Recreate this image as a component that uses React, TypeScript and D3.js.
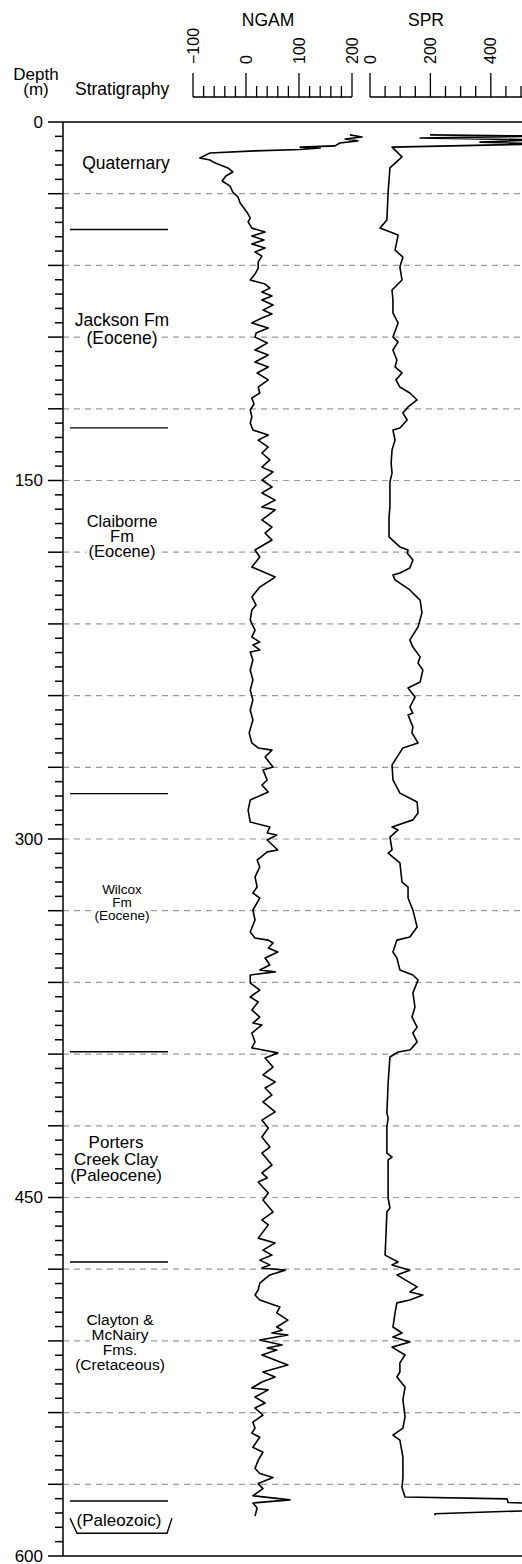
import React from "react";
import * as d3 from "d3";

const WIDTH = 522;
const HEIGHT = 1564;

// depth ticks (m)
const depthLabels = [0, 150, 300, 450, 600];
const ngamTicks = [-100, 0, 100, 200];
const sprTicks = [0, 200, 400];

// formation boundaries (m)
const stratBoundaries = [45, 128, 281, 389, 477, 577];

const stratLabels = [
    {lines: ["Quaternary"], depth: 17, x: 126, size: 17.5, gap: 18},
    {lines: ["Jackson Fm", "(Eocene)"], depth: 83, x: 122, size: 17.5, gap: 18},
    {lines: ["Claiborne", "Fm", "(Eocene)"], depth: 167, x: 122, size: 16.5, gap: 15},
    {lines: ["Wilcox", "Fm", "(Eocene)"], depth: 321, x: 122, size: 13.5, gap: 13},
    {lines: ["Porters", "Creek Clay", "(Paleocene)"], depth: 427, x: 116, size: 17, gap: 16.5},
    {lines: ["Clayton &", "McNairy", "Fms.", "(Cretaceous)"], depth: 501, x: 120, size: 15.5, gap: 15},
    {lines: ["(Paleozoic)"], depth: 585, x: 119, size: 17, gap: 16},
];

// [depth m, NGAM]
const ngam: [number, number][] = [
    [5.4, 196], [6.3, 219], [7.1, 187], [7.9, 211], [8.8, 177], [10.0, 168], [10.5, 102], [10.9, 140],
    [11.5, 102], [12.1, 17], [13.0, -68], [15.1, -87], [15.9, -68], [17.2, -58], [19.2, -34], [20.9, -25],
    [22.6, -38], [24.7, -45], [26.8, -30], [29.3, -25], [31.4, -15], [33.9, -11], [36.0, -4], [38.5, 4],
    [40.2, 8], [41.8, 4], [44.4, 11], [46.0, 36], [47.7, 11], [49.4, 34], [51.0, 11], [52.7, 36],
    [54.4, 17], [56.1, 30], [58.6, 23], [61.1, 23], [63.6, 17], [66.1, 8], [67.8, 36], [69.5, 45],
    [71.1, 30], [72.8, 49], [74.5, 30], [76.6, 51], [78.7, 32], [80.3, 49], [82.0, 30], [84.1, 11],
    [86.2, 42], [88.3, 19], [90.0, 17], [92.5, 40], [95.4, 17], [97.5, 42], [100.4, 17], [102.5, 42],
    [105.0, 21], [107.9, 42], [110.9, 23], [113.4, 26], [115.5, 11], [118.0, 15], [120.5, 8], [123.4, 11],
    [125.9, 8], [128.9, 13], [131.0, 42], [133.1, 23], [136.0, 42], [138.5, 30], [141.4, 45], [144.4, 30],
    [146.4, 51], [149.8, 30], [152.7, 49], [155.2, 30], [158.2, 55], [161.1, 30], [162.3, 55], [166.5, 30],
    [169.5, 49], [172.0, 36], [174.9, 49], [179.1, 17], [182.0, 26], [186.2, 11], [190.4, 55], [194.6, 26],
    [198.7, 11], [202.1, 19], [204.2, 11], [208.4, 8], [212.6, 17], [215.5, 11], [217.6, 26], [218.8, 13],
    [220.9, 26], [221.8, 8], [225.1, 13], [229.3, 8], [233.5, 13], [237.7, 8], [241.8, 13], [246.0, 8],
    [250.2, 13], [255.6, 6], [259.8, 11], [261.9, 23], [262.8, 49], [265.7, 36], [269.9, 51], [271.1, 32],
    [275.3, 40], [277.4, 30], [280.3, 42], [283.7, 8], [287.9, 4], [292.9, 8], [295.0, 45], [297.5, 40],
    [298.3, 58], [300.4, 40], [304.6, 60], [305.4, 40], [308.8, 21], [311.7, 26], [315.9, 17], [320.1, 21],
    [322.6, 13], [324.7, 26], [329.7, 13], [333.9, 17], [338.9, 8], [341.4, 17], [342.3, 42], [343.5, 51],
    [345.6, 42], [347.3, 60], [349.8, 36], [352.7, 45], [354.8, 26], [355.6, 55], [356.9, 8], [360.3, 8],
    [363.2, 26], [366.1, 8], [368.2, 23], [371.5, 11], [374.5, 26], [377.0, 13], [377.8, 30], [381.2, 11],
    [384.9, 17], [387.4, 11], [388.3, 32], [389.5, 60], [391.6, 36], [395.4, 51], [398.7, 32], [401.7, 55],
    [404.2, 36], [407.1, 49], [410.0, 32], [414.2, 55], [417.6, 30], [420.9, 42], [424.7, 30], [428.9, 45],
    [431.4, 30], [436.4, 49], [439.7, 30], [441.8, 40], [443.5, 23], [448.1, 42], [451.0, 32], [456.1, 51],
    [459.4, 30], [461.5, 42], [467.0, 23], [469.0, 55], [472.0, 32], [474.1, 49], [476.2, 26], [478.2, 45],
    [479.5, 30], [480.4, 74], [482.4, 45], [485.8, 26], [488.7, 23], [490.8, 17], [492.9, 26], [495.8, 64],
    [498.3, 58], [501.3, 79], [504.2, 58], [505.5, 68], [506.7, 49], [507.5, 79], [509.6, 26], [511.7, 68],
    [513.0, 40], [513.8, 58], [515.9, 30], [520.1, 79], [523.0, 32], [525.1, 55], [527.2, 30], [529.7, 11],
    [530.5, 42], [533.5, 17], [536.0, 36], [538.1, 17], [541.0, 32], [544.0, 13], [546.5, 17], [548.6, 11],
    [550.3, 26], [554.5, 13], [556.6, 32], [560.0, 23], [563.4, 17], [565.5, 26], [567.2, 51], [569.7, 23],
    [571.8, 32], [574.8, 13], [576.5, 83], [577.8, 13], [579.9, 21], [583.3, 17],
];

// [depth m, SPR]
const spr: [number, number][] = [
    [5.4, 199], [5.9, 563], [6.7, 166], [7.5, 563], [8.4, 364], [9.2, 563], [10.5, 73], [14.6, 106],
    [19.2, 66], [29.3, 60], [41.0, 56], [44.4, 33], [47.3, 93], [53.6, 83], [56.5, 109], [60.7, 99],
    [66.1, 106], [70.3, 73], [74.5, 76], [79.9, 76], [84.1, 93], [90.0, 76], [92.0, 93], [95.4, 76],
    [99.6, 89], [102.5, 83], [105.0, 106], [107.9, 86], [110.9, 99], [113.4, 132], [116.3, 156], [119.2, 126],
    [121.8, 109], [124.7, 123], [128.0, 99], [128.9, 76], [133.1, 83], [137.2, 73], [142.7, 70], [146.9, 73],
    [150.6, 66], [161.1, 66], [165.3, 63], [173.6, 63], [177.8, 99], [179.1, 126], [180.3, 123], [183.3, 142],
    [186.6, 132], [188.7, 99], [189.5, 76], [191.6, 83], [195.8, 132], [199.2, 159], [200.0, 166], [205.4, 172],
    [211.3, 159], [216.7, 132], [219.7, 142], [223.8, 166], [226.4, 159], [229.3, 175], [234.3, 166], [236.8, 126],
    [240.6, 149], [244.8, 132], [247.3, 142], [248.1, 126], [253.1, 142], [255.6, 139], [259.8, 159], [261.9, 109],
    [269.0, 73], [275.3, 76], [280.8, 99], [284.5, 156], [289.1, 159], [292.0, 142], [295.0, 73], [296.2, 93],
    [299.2, 66], [304.6, 73], [305.9, 60], [310.0, 99], [318.0, 106], [320.1, 126], [324.7, 126], [329.7, 142],
    [336.8, 156], [341.0, 132], [342.3, 89], [347.3, 76], [349.8, 89], [354.8, 99], [356.9, 142], [359.0, 159],
    [364.4, 142], [370.3, 149], [374.5, 139], [378.7, 156], [381.2, 142], [384.9, 156], [387.4, 139], [388.3, 132],
    [389.1, 93], [391.2, 66], [402.1, 60], [414.6, 56], [416.7, 60], [420.5, 56], [431.4, 56], [433.1, 73],
    [434.3, 60], [450.2, 60], [454.4, 66], [456.1, 56], [474.1, 50], [477.0, 93], [478.2, 73], [480.4, 132],
    [482.4, 89], [487.4, 156], [489.5, 132], [490.8, 175], [492.9, 132], [494.1, 89], [498.3, 83], [504.2, 76],
    [506.7, 106], [508.4, 76], [510.5, 132], [512.6, 73], [515.9, 116], [519.2, 99], [523.0, 99], [525.1, 89],
    [529.3, 116], [534.7, 109], [541.8, 116], [546.5, 109], [549.4, 76], [551.5, 99], [558.6, 109], [567.2, 109],
    [571.3, 106], [575.3, 116], [576.1, 454], [577.6, 457], [578.0, 540], [581.0, 540], [582.3, 215], [583.0, 215],
];

const FONT = "'Liberation Sans', Arial, Helvetica, sans-serif";

const App = () => {
    const left = 63;
    const top = 122;
    const bottom = 1556;

    const yScale = d3.scaleLinear().domain([0, 600]).range([top, bottom]);
    const ngamX = d3.scaleLinear().domain([-100, 200]).range([193, 352]);
    const sprX = d3.scaleLinear().domain([0, 500]).range([370, 521]);

    const ngamLine = d3.line<[number, number]>()
        .x((d) => ngamX(d[1]))
        .y((d) => yScale(d[0]));
    const sprLine = d3.line<[number, number]>()
        .x((d) => sprX(d[1]))
        .y((d) => yScale(d[0]));

    const majorDepth = d3.range(0, 601, 30);
    const minorDepth = d3.range(0, 601, 6).filter((d) => d % 30 !== 0);
    const gridDepth = d3.range(30, 600, 30);

    const scaleBase = 97;

    const halo = {stroke: "#fff", strokeWidth: 6, paintOrder: "stroke" as const, strokeLinejoin: "round" as const};

    // Paleozoic bracket
    const py0 = yScale(585) - 2;
    const py1 = yScale(590.5);
    const bracket = `M70,${py0} L77,${py1} L167,${py1} L172,${py0}`;

    return (
        <svg width={WIDTH} height={HEIGHT} style={{position: "absolute", left: 0, top: 0, background: "#fff"}} fontFamily={FONT}>
            <defs>
                <clipPath id="plotClip">
                    <rect x={left} y={top} width={WIDTH - left} height={bottom - top} />
                </clipPath>
            </defs>

            {/* headers */}
            <text x={36} y={80} fontSize={17} textAnchor="middle">Depth</text>
            <text x={36} y={95} fontSize={17} textAnchor="middle">(m)</text>
            <text x={75} y={95} fontSize={17.5}>Stratigraphy</text>
            <text x={268} y={26} fontSize={17.5} textAnchor="middle">NGAM</text>
            <text x={426} y={26} fontSize={17.5} textAnchor="middle">SPR</text>

            {/* log scales */}
            <g stroke="#000" strokeWidth={1.3} fill="none">
                <line x1={ngamX(-100)} x2={ngamX(200)} y1={scaleBase} y2={scaleBase} />
                {d3.range(-100, 201, 20).map((v) => (
                    <line key={v} x1={ngamX(v)} x2={ngamX(v)} y1={scaleBase} y2={v % 100 === 0 ? 73 : 86} />
                ))}
                <line x1={sprX(0)} x2={WIDTH} y1={scaleBase} y2={scaleBase} />
                {d3.range(0, 501, 50).map((v) => (
                    <line key={v} x1={sprX(v)} x2={sprX(v)} y1={scaleBase} y2={v % 200 === 0 ? 73 : 86} />
                ))}
            </g>
            {ngamTicks.map((v) => (
                <text key={v} transform={`translate(${ngamX(v)},64) rotate(-90)`} fontSize={16} dy="0.35em">
                    {v < 0 ? "\u2212" + Math.abs(v) : v}
                </text>
            ))}
            {sprTicks.map((v) => (
                <text key={v} transform={`translate(${sprX(v)},64) rotate(-90)`} fontSize={16} dy="0.35em">
                    {v}
                </text>
            ))}

            {/* grid */}
            <g stroke="#9a9a9a" strokeWidth={1.2} strokeDasharray="6,5">
                {gridDepth.map((d) => (
                    <line key={d} x1={left} x2={WIDTH} y1={yScale(d)} y2={yScale(d)} />
                ))}
            </g>

            {/* stratigraphy */}
            <g stroke="#000" strokeWidth={1.4}>
                {stratBoundaries.map((d) => (
                    <line key={d} x1={70} x2={168} y1={yScale(d)} y2={yScale(d)} />
                ))}
            </g>
            <path d={bracket} fill="none" stroke="#000" strokeWidth={1.4} />
            {stratLabels.map((s, i) => (
                <g key={i}>
                    {s.lines.map((t, j) => (
                        <text key={j} x={s.x} y={yScale(s.depth) + j * s.gap} dy="0.35em" fontSize={s.size}
                              textAnchor="middle" {...halo} fill="#000">
                            {t}
                        </text>
                    ))}
                </g>
            ))}

            {/* curves */}
            <g clipPath="url(#plotClip)" fill="none" stroke="#000" strokeWidth={1.6} strokeLinejoin="round">
                <path d={ngamLine(ngam) || ""} />
                <path d={sprLine(spr) || ""} />
            </g>

            {/* depth axis */}
            <g stroke="#000" strokeWidth={1.5}>
                <line x1={left} x2={left} y1={top} y2={bottom} />
                <line x1={left} x2={WIDTH} y1={top} y2={top} />
                <line x1={left} x2={WIDTH} y1={bottom} y2={bottom} />
                {majorDepth.map((d) => (
                    <line key={d} x1={48} x2={left} y1={yScale(d)} y2={yScale(d)} />
                ))}
                {minorDepth.map((d) => (
                    <line key={d} x1={55} x2={left} y1={yScale(d)} y2={yScale(d)} />
                ))}
            </g>
            {depthLabels.map((d) => (
                <text key={d} x={43} y={yScale(d)} dy="0.35em" fontSize={17} textAnchor="end">{d}</text>
            ))}
        </svg>
    );
};

export default App;
